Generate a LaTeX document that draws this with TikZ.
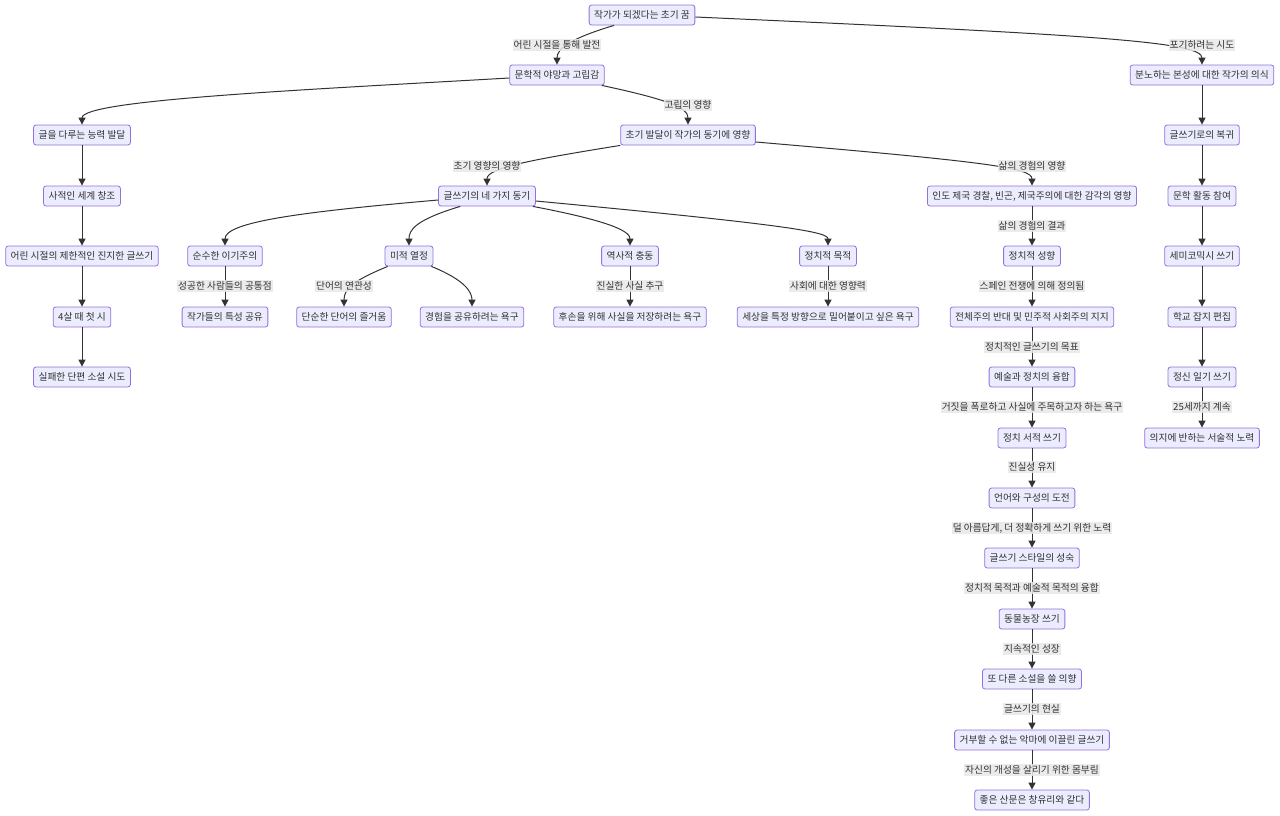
\documentclass[tikz,border=0pt]{standalone}
\usepackage{fontspec}
\newfontfamily\kr{Noto Sans CJK KR}
\usetikzlibrary{arrows.meta}
\definecolor{mmfill}{HTML}{ECECFF}
\definecolor{mmborder}{HTML}{9370DB}
\definecolor{mmedge}{HTML}{333333}
\definecolor{mmtext}{HTML}{333333}
\definecolor{mmlbl}{HTML}{E8E8E8}
\tikzset{
  box/.style={draw=mmborder, fill=mmfill, rounded corners=2.5pt, line width=0.8pt,
    minimum height=20pt, inner xsep=5pt, inner ysep=0pt, text=mmtext,
    font=\kr\fontsize{9.7}{10}\selectfont},
  lbl/.style={fill=mmlbl, fill opacity=0.85, text opacity=1, inner xsep=1pt, inner ysep=1.5pt,
    text=mmtext, font=\kr\fontsize{9.7}{10}\selectfont},
  edge/.style={draw=mmedge, line width=1pt, -{Triangle[length=7pt,width=7pt]}}
}
\begin{document}
\begin{tikzpicture}[x=1pt,y=-1pt]
\useasboundingbox (0,0) rectangle (1280,815);
% nodes
\node[box] (A) at (642,15) {작가가 되겠다는 초기 꿈};
\node[box] (B) at (557,75) {문학적 야망과 고립감};
\node[box] (C) at (1202,75) {분노하는 본성에 대한 작가의 의식};
\node[box] (D) at (82,135) {글을 다루는 능력 발달};
\node[box] (E) at (688,135) {초기 발달이 작가의 동기에 영향};
\node[box] (F) at (1202,135) {글쓰기로의 복귀};
\node[box] (G) at (82,196) {사적인 세계 창조};
\node[box] (H) at (487,196) {글쓰기의 네 가지 동기};
\node[box] (I) at (1032,196) {인도 제국 경찰, 빈곤, 제국주의에 대한 감각의 영향};
\node[box] (J) at (1202,196) {문학 활동 참여};
\node[box] (K) at (82,256) {어린 시절의 제한적인 진지한 글쓰기};
\node[box] (L) at (225,256) {순수한 이기주의};
\node[box] (M) at (409,256) {미적 열정};
\node[box] (N) at (630,256) {역사적 충동};
\node[box] (O) at (828,256) {정치적 목적};
\node[box] (P) at (1032,256) {정치적 성향};
\node[box] (Q) at (1202,256) {세미코믹시 쓰기};
\node[box] (R) at (82,317) {4살 때 첫 시};
\node[box] (S) at (225,317) {작가들의 특성 공유};
\node[box] (T) at (344,317) {단순한 단어의 즐거움};
\node[box] (U) at (472,317) {경험을 공유하려는 욕구};
\node[box] (V) at (630,317) {후손을 위해 사실을 저장하려는 욕구};
\node[box] (W) at (828,317) {세상을 특정 방향으로 밀어붙이고 싶은 욕구};
\node[box] (X) at (1032,317) {전체주의 반대 및 민주적 사회주의 지지};
\node[box] (Y) at (1202,317) {학교 잡지 편집};
\node[box] (Z) at (82,377) {실패한 단편 소설 시도};
\node[box] (AA) at (1032,377) {예술과 정치의 융합};
\node[box] (AB) at (1202,377) {정신 일기 쓰기};
\node[box] (AC) at (1032,438) {정치 서적 쓰기};
\node[box] (AD) at (1202,438) {의지에 반하는 서술적 노력};
\node[box] (AE) at (1032,498) {언어와 구성의 도전};
\node[box] (AF) at (1032,558) {글쓰기 스타일의 성숙};
\node[box] (AG) at (1032,619) {동물농장 쓰기};
\node[box] (AH) at (1032,679) {또 다른 소설을 쓸 의향};
\node[box] (AI) at (1032,740) {거부할 수 없는 악마에 이끌린 글쓰기};
\node[box] (AJ) at (1032,800) {좋은 산문은 창유리와 같다};
% curved edges
\draw[edge] ([xshift=-28pt]A.south) .. controls (572,38) and (557,48) .. (B.north);
\draw[edge] ([yshift=-2pt]A.east) .. controls (1100,35) and (1202,42) .. (C.north);
\draw[edge] ([yshift=-3pt]B.west) .. controls (300,90) and (82,100) .. (D.north);
\draw[edge] ([xshift=-3pt]B.south east) .. controls (670,100) and (688,108) .. (E.north);
\draw[edge] (E.south west) .. controls (530,160) and (487,168) .. (H.north);
\draw[edge] ([yshift=-7pt]E.east) .. controls (990,162) and (1032,168) .. (I.north);
\draw[edge] ([yshift=-4pt]H.west) .. controls (300,212) and (225,222) .. (L.north);
\draw[edge] ([xshift=22pt]H.south west) .. controls (415,220) and (409,230) .. (M.north);
\draw[edge] ([xshift=-3pt]H.south east) .. controls (615,222) and (630,232) .. (N.north);
\draw[edge] ([yshift=-5pt]H.east) .. controls (790,225) and (828,232) .. (O.north);
\draw[edge] ([xshift=3pt]M.south west) .. controls (355,280) and (344,288) .. (T.north);
\draw[edge] ([xshift=-2pt]M.south east) .. controls (465,280) and (472,292) .. (U.north);
% straight edges
\draw[edge] (C) -- (F);
\draw[edge] (F) -- (J);
\draw[edge] (J) -- (Q);
\draw[edge] (Q) -- (Y);
\draw[edge] (Y) -- (AB);
\draw[edge] (AB) -- (AD);
\draw[edge] (D) -- (G);
\draw[edge] (G) -- (K);
\draw[edge] (K) -- (R);
\draw[edge] (R) -- (Z);
\draw[edge] (L) -- (S);
\draw[edge] (N) -- (V);
\draw[edge] (O) -- (W);
\draw[edge] (I) -- (P);
\draw[edge] (P) -- (X);
\draw[edge] (X) -- (AA);
\draw[edge] (AA) -- (AC);
\draw[edge] (AC) -- (AE);
\draw[edge] (AE) -- (AF);
\draw[edge] (AF) -- (AG);
\draw[edge] (AG) -- (AH);
\draw[edge] (AH) -- (AI);
\draw[edge] (AI) -- (AJ);
% edge labels
\node[lbl] (lAB) at (557,45) {어린 시절을 통해 발전};
\node[lbl] (lAC) at (1202,45) {포기하려는 시도};
\node[lbl] (lBE) at (688,105) {고립의 영향};
\node[lbl] (lEH) at (487,166) {초기 영향의 영향};
\node[lbl] (lEI) at (1032,166) {삶의 경험의 영향};
\node[lbl] (lLS) at (225,286) {성공한 사람들의 공통점};
\node[lbl] (lMT) at (344,286) {단어의 연관성};
\node[lbl] (lNV) at (630,286) {진실한 사실 추구};
\node[lbl] (lOW) at (828,286) {사회에 대한 영향력};
\node[lbl] (lIP) at (1032,226) {삶의 경험의 결과};
\node[lbl] (lPX) at (1032,286) {스페인 전쟁에 의해 정의됨};
\node[lbl] (lXAA) at (1032,347) {정치적인 글쓰기의 목표};
\node[lbl] (lAAAC) at (1032,407) {거짓을 폭로하고 사실에 주목하고자 하는 욕구};
\node[lbl] (lABAD) at (1202,407) {25세까지 계속};
\node[lbl] (lACAE) at (1032,467) {진실성 유지};
\node[lbl] (lAEAF) at (1032,528) {덜 아름답게, 더 정확하게 쓰기 위한 노력};
\node[lbl] (lAFAG) at (1032,588) {정치적 목적과 예술적 목적의 융합};
\node[lbl] (lAGAH) at (1032,649) {지속적인 성장};
\node[lbl] (lAHAI) at (1032,709) {글쓰기의 현실};
\node[lbl] (lAIAJ) at (1032,770) {자신의 개성을 살리기 위한 몸부림};
\end{tikzpicture}
\end{document}
